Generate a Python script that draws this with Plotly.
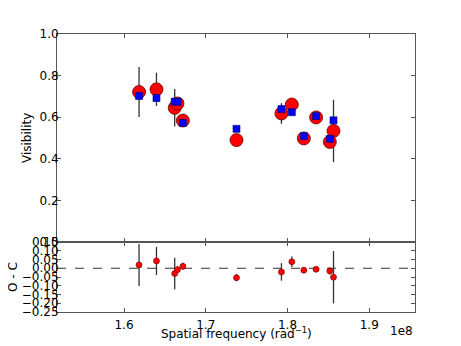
import plotly.graph_objects as go

# observed visibilities vs spatial frequency, with model values
spatial_freq = [1.6184e8, 1.6397e8, 1.6620e8, 1.6654e8, 1.6720e8, 1.7376e8,
                1.7926e8, 1.8053e8, 1.8200e8, 1.8350e8, 1.8518e8, 1.8563e8]
vis_obs = [0.721, 0.734, 0.645, 0.666, 0.584, 0.490,
           0.618, 0.661, 0.498, 0.599, 0.481, 0.534]
vis_err = [0.12, 0.08, 0.09, 0.02, 0.02, 0.02,
           0.05, 0.03, 0.015, 0.015, 0.02, 0.15]
vis_model = [0.702, 0.692, 0.675, 0.674, 0.573, 0.544,
             0.639, 0.624, 0.509, 0.605, 0.496, 0.585]
residual = [o - m for o, m in zip(vis_obs, vis_model)]

x_ticks = [1.6e8, 1.7e8, 1.8e8, 1.9e8]
x_ticklabels = ['1.6', '1.7', '1.8', '1.9']
main_yticks = [0.0, 0.2, 0.4, 0.6, 0.8, 1.0]
res_yticks = [0.15, 0.10, 0.05, 0.0, -0.05, -0.10, -0.15, -0.20, -0.25]

font = dict(family='DejaVu Sans', size=12, color='black')
spine = '#555555'

fig = go.Figure()

# top panel
fig.add_trace(go.Scatter(
    x=spatial_freq, y=vis_obs, mode='markers',
    error_y=dict(type='data', array=vis_err, color='#333333', thickness=1.3, width=0),
    marker=dict(size=13, color='red', line=dict(color='#660000', width=0.8)),
    xaxis='x', yaxis='y', showlegend=False))
fig.add_trace(go.Scatter(
    x=spatial_freq, y=vis_model, mode='markers',
    marker=dict(size=7, color='blue', symbol='square', line=dict(color='#000066', width=0.6)),
    xaxis='x', yaxis='y', showlegend=False))

# residual panel
fig.add_trace(go.Scatter(
    x=[1.518e8, 1.956e8], y=[0, 0], mode='lines',
    line=dict(color='#333333', width=1, dash='dash'),
    xaxis='x2', yaxis='y2', showlegend=False, hoverinfo='none'))
fig.add_trace(go.Scatter(
    x=spatial_freq, y=residual, mode='markers',
    error_y=dict(type='data', array=vis_err, color='#333333', thickness=1.3, width=0),
    marker=dict(size=6, color='red', line=dict(color='#660000', width=0.6)),
    xaxis='x2', yaxis='y2', showlegend=False))

axis_common = dict(showgrid=False, zeroline=False, showline=True, linecolor=spine,
                   linewidth=1, mirror='ticks', ticks='inside', ticklen=4,
                   tickcolor=spine, tickfont=font, automargin=False)

bottom_frac = 70.0 / 278.0

# axis titles placed by hand (pixel offsets from the plot area)
titles = [
    dict(text='Visibility', x=0, y=(312 - 138) / 278.0, xanchor='center', yanchor='middle',
         xshift=-30, textangle=-90),
    dict(text='O - C', x=0, y=(312 - 277) / 278.0, xanchor='center', yanchor='middle',
         xshift=-44, textangle=-90),
    dict(text='Spatial frequency (rad<sup>−1</sup>)', x=(236 - 57) / 358.0, y=0,
         xanchor='center', yanchor='middle', yshift=-21),
    dict(text='1e8', x=1, y=0, xanchor='right', yanchor='middle', yshift=-19),
]
for t in titles:
    t.update(xref='paper', yref='paper', showarrow=False, font=font)

# page body has an 8px margin, so the figure is a bit smaller than the window
fig.update_layout(
    width=453, height=338,
    margin=dict(l=49, r=46, t=26, b=34, autoexpand=False),
    paper_bgcolor='white', plot_bgcolor='white',
    font=font,
    xaxis=dict(axis_common, range=[1.518e8, 1.956e8], tickvals=x_ticks,
               showticklabels=False, domain=[0, 1], anchor='y'),
    yaxis=dict(axis_common, range=[0, 1.0], tickvals=main_yticks,
               ticktext=['%.1f' % v for v in main_yticks],
               domain=[bottom_frac, 1], anchor='x', ticklabelstandoff=-5),
    xaxis2=dict(axis_common, range=[1.518e8, 1.956e8], tickvals=x_ticks,
                ticktext=x_ticklabels, domain=[0, 1], anchor='y2',
                ticklabelstandoff=2),
    yaxis2=dict(axis_common, range=[-0.25, 0.15], tickvals=res_yticks,
                ticktext=[('%.2f' % v).replace('-', '−') for v in res_yticks],
                domain=[0, bottom_frac], anchor='x2', ticklabelstandoff=-5),
    annotations=titles,
)

fig.write_html("out.html")
